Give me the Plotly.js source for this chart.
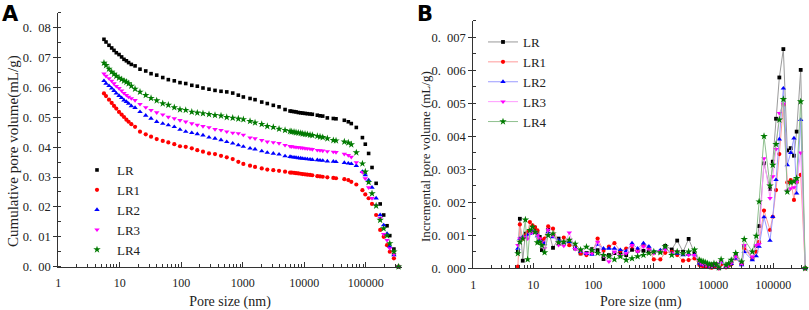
<!DOCTYPE html>
<html>
<head>
<meta charset="utf-8">
<script src="https://cdn.plot.ly/plotly-3.0.1.min.js"></script>
<style>html,body{margin:0;padding:0;background:#fff;}#chart{width:809px;height:310px;}</style>
</head>
<body>
<div id="chart"></div>
<script>
// Pore size (nm), shared by both panels
var poreSize = [5.53,5.97,6.67,7.38,8.05,8.77,9.71,10.7,11.7,12.8,13.9,15.4,17.7,21.3,26.4,32.2,39.8,49.9,61.5,76.9,95.2,118,148,182,225,282,353,442,548,685,845,1020,1310,1580,2030,2500,3130,3880,4860,5860,6240,6800,7330,7990,8740,9420,10260,11190,12380,13490,16270,17990,19910,23660,29620,32760,44700,51900,58000,70000,88000,98000,111000,126000,147000,171000,195000,221000,245000,286000,340000];

var seriesNames = ['LR','LR1','LR2','LR3','LR4'];

// Panel A: cumulative pore volume (mL/g)
var cumLR  = [0.0761,0.0752,0.0741,0.0732,0.0724,0.0716,0.0710,0.0702,0.0694,0.0689,0.0683,0.0677,0.0672,0.0661,0.0655,0.0646,0.0641,0.0633,0.0626,0.0622,0.0616,0.0613,0.0607,0.0604,0.0598,0.0594,0.0590,0.0587,0.0585,0.0581,0.0574,0.0568,0.0563,0.0559,0.0551,0.0546,0.0540,0.0535,0.0526,0.0521,0.0520,0.0519,0.0518,0.0516,0.0515,0.0514,0.0513,0.0512,0.0511,0.0510,0.0507,0.0505,0.0504,0.0498,0.0496,0.0495,0.0490,0.0485,0.0479,0.0466,0.0432,0.0410,0.0379,0.0332,0.0279,0.0210,0.0173,0.0137,0.0104,0.0059,0.0000];
var cumLR1 = [0.0580,0.0571,0.0559,0.0548,0.0538,0.0529,0.0518,0.0509,0.0501,0.0492,0.0485,0.0477,0.0468,0.0452,0.0443,0.0435,0.0427,0.0421,0.0416,0.0410,0.0403,0.0401,0.0396,0.0390,0.0385,0.0379,0.0377,0.0371,0.0366,0.0360,0.0351,0.0344,0.0338,0.0334,0.0329,0.0325,0.0323,0.0321,0.0318,0.0315,0.0315,0.0314,0.0313,0.0312,0.0311,0.0310,0.0309,0.0308,0.0307,0.0306,0.0303,0.0302,0.0301,0.0299,0.0297,0.0296,0.0293,0.0290,0.0284,0.0275,0.0256,0.0242,0.0229,0.0210,0.0173,0.0123,0.0100,0.0072,0.0050,0.0028,0.0000];
var cumLR2 = [0.0622,0.0613,0.0605,0.0597,0.0589,0.0580,0.0572,0.0565,0.0557,0.0552,0.0546,0.0538,0.0532,0.0518,0.0506,0.0496,0.0485,0.0479,0.0474,0.0468,0.0459,0.0452,0.0448,0.0444,0.0440,0.0433,0.0429,0.0424,0.0418,0.0413,0.0407,0.0402,0.0396,0.0393,0.0387,0.0382,0.0379,0.0376,0.0370,0.0368,0.0367,0.0366,0.0365,0.0364,0.0363,0.0362,0.0361,0.0360,0.0359,0.0358,0.0357,0.0356,0.0355,0.0353,0.0352,0.0351,0.0348,0.0346,0.0344,0.0338,0.0318,0.0307,0.0290,0.0265,0.0229,0.0173,0.0139,0.0111,0.0067,0.0039,0.0000];
var cumLR3 = [0.0646,0.0638,0.0630,0.0622,0.0613,0.0604,0.0597,0.0589,0.0581,0.0574,0.0568,0.0563,0.0557,0.0544,0.0533,0.0524,0.0516,0.0509,0.0501,0.0496,0.0490,0.0485,0.0479,0.0474,0.0470,0.0466,0.0460,0.0457,0.0452,0.0448,0.0446,0.0441,0.0432,0.0429,0.0423,0.0418,0.0416,0.0413,0.0407,0.0403,0.0402,0.0401,0.0400,0.0399,0.0398,0.0397,0.0396,0.0395,0.0394,0.0393,0.0390,0.0389,0.0388,0.0386,0.0384,0.0383,0.0377,0.0373,0.0367,0.0349,0.0316,0.0295,0.0265,0.0229,0.0206,0.0162,0.0109,0.0089,0.0061,0.0042,0.0000];
var cumLR4 = [0.0682,0.0674,0.0662,0.0652,0.0645,0.0638,0.0632,0.0627,0.0622,0.0618,0.0613,0.0605,0.0595,0.0585,0.0574,0.0564,0.0556,0.0546,0.0541,0.0533,0.0526,0.0524,0.0518,0.0515,0.0513,0.0510,0.0507,0.0505,0.0500,0.0498,0.0495,0.0493,0.0487,0.0482,0.0477,0.0470,0.0467,0.0461,0.0457,0.0453,0.0452,0.0451,0.0449,0.0448,0.0447,0.0445,0.0444,0.0443,0.0441,0.0440,0.0437,0.0435,0.0433,0.0429,0.0423,0.0422,0.0418,0.0415,0.0409,0.0382,0.0345,0.0318,0.0283,0.0245,0.0204,0.0156,0.0128,0.0104,0.0078,0.0050,0.0000];

// Panel B: incremental pore volume (mL/g)
var incLR  = [0.0005,0.0015,0.00023,0.00105,0.00106,0.0011,0.0011,0.00122,0.00108,0.00095,0.00055,0.00075,0.00117,0.00062,0.0009,0.00078,0.00081,0.0006,0.00045,0.00046,0.00058,0.00055,0.00028,0.0004,0.00046,0.00048,0.0004,0.00056,0.00053,0.00053,0.00052,0.00049,0.0005,0.00068,0.00057,0.00084,0.0005,0.00089,0.00046,0.0002,0.00018,0.00015,0.00012,0.0001,0.00008,0.0001,0.00006,0.00012,0.00002,0.00015,0.00006,0.00012,0.00015,0.00042,0.00015,0.00068,0.0003,0.00068,0.00128,0.00318,0.0024,0.00323,0.00453,0.00578,0.00664,0.00357,0.00364,0.00341,0.00414,0.00601,0];
var incLR1 = [0.00005,0.00133,0.0009,0.001,0.0011,0.0014,0.0013,0.00125,0.00115,0.0009,0.00085,0.0009,0.00127,0.0012,0.00078,0.00093,0.0007,0.00065,0.00045,0.0004,0.00047,0.0009,0.00053,0.00066,0.00076,0.00053,0.0006,0.00066,0.00053,0.0007,0.0006,0.00027,0.00027,0.00047,0.0005,0.0004,0.00023,0.00025,0.0003,0.0001,0.00008,0.00006,0.00005,0.00004,0.00003,0.00002,0.00005,0.00008,0,0.00012,0.00003,0.00008,0.00012,0.0003,0.00012,0.0006,0.0003,0.0005,0.0008,0.00175,0.00116,0.00156,0.00237,0.00346,0.00495,0.0026,0.00267,0.00207,0.0026,0.00283,0];
var incLR2 = [0.0006,0.0009,0.00095,0.00095,0.001,0.00105,0.0011,0.00108,0.00098,0.00085,0.0008,0.00075,0.0011,0.00095,0.00085,0.00078,0.0008,0.00062,0.0005,0.00044,0.00042,0.00072,0.0006,0.0006,0.0006,0.00056,0.00052,0.00076,0.0006,0.00076,0.00066,0.0005,0.00055,0.0006,0.00045,0.00045,0.0004,0.00042,0.0004,0.00015,0.00012,0.0001,0.00012,0.0001,0.00005,0.00007,0.00008,0.0001,0.00001,0.00018,0.00005,0.00012,0.00014,0.0003,0.0001,0.0005,0.00025,0.00037,0.00066,0.00155,0.00084,0.00156,0.00268,0.00391,0.00545,0.00313,0.0035,0.00394,0.00227,0.0045,0];
var incLR3 = [0.0007,0.0009,0.00092,0.00095,0.0009,0.00105,0.0011,0.0011,0.001,0.0009,0.0008,0.0006,0.00116,0.001,0.0007,0.00068,0.00108,0.00058,0.00052,0.00045,0.00045,0.0008,0.00038,0.0002,0.0005,0.0004,0.00045,0.0007,0.0005,0.00066,0.00056,0.00045,0.00052,0.00056,0.00046,0.00052,0.00045,0.0004,0.0004,0.0002,0.00015,0.00012,0.0001,0.00008,0.00006,0.00005,0.0001,0.00014,0,0.0002,0.00004,0.0001,0.00016,0.00036,0.00012,0.0007,0.00035,0.0007,0.00073,0.00333,0.00212,0.00278,0.00361,0.0047,0.00498,0.00235,0.00242,0.00245,0.00263,0.0035,0];
var incLR4 = [0.00045,0.0008,0.0009,0.00147,0.00027,0.00115,0.00125,0.0011,0.00078,0.0008,0.0007,0.00048,0.001,0.00105,0.00078,0.0008,0.00086,0.00074,0.00056,0.00065,0.00055,0.00046,0.0004,0.00036,0.00027,0.00036,0.00025,0.0003,0.00036,0.0004,0.00046,0.0005,0.00048,0.00066,0.0004,0.0005,0.00045,0.0005,0.00056,0.00025,0.00022,0.0002,0.00018,0.00015,0.00012,0.0001,0.00015,0.00012,0.00002,0.00027,0.0001,0.00014,0.00025,0.00046,0.0002,0.00088,0.0005,0.00098,0.00202,0.0040,0.0025,0.00313,0.00376,0.0045,0.00512,0.00232,0.0026,0.00263,0.00273,0.00505,0];

var xTickVals = [1,10,100,1000,10000,100000];
var xTickText = ['1','10','100','1000','10000','100000'];
var yTickValsA = [0,0.01,0.02,0.03,0.04,0.05,0.06,0.07,0.08];
var yTickTextA = ['0.\u00a0\u00a000','0.\u00a0\u00a001','0.\u00a0\u00a002','0.\u00a0\u00a003','0.\u00a0\u00a004','0.\u00a0\u00a005','0.\u00a0\u00a006','0.\u00a0\u00a007','0.\u00a0\u00a008'];
var yTickValsB = [0,0.001,0.002,0.003,0.004,0.005,0.006,0.007];
var yTickTextB = ['0.\u00a0\u00a0000','0.\u00a0\u00a0001','0.\u00a0\u00a0002','0.\u00a0\u00a0003','0.\u00a0\u00a0004','0.\u00a0\u00a0005','0.\u00a0\u00a0006','0.\u00a0\u00a0007'];
var xTitle = 'Pore size (nm)';
var yTitleA = 'Cumulative pore volume(mL/g)';
var yTitleB = 'Incremental pore volume (mL/g)';

var cumData = [cumLR, cumLR1, cumLR2, cumLR3, cumLR4];
var incData = [incLR, incLR1, incLR2, incLR3, incLR4];
var markerColors = ['#000000','#ff0000','#0000ff','#ff00ff','#007a00'];
var lineColors = ['#9a9a9a','#ff9a9a','#9a9aff','#ff9aff','#8fc08f'];
var symbols = ['square','circle','triangle-up','triangle-down','star'];
var sizesA = [3.6,4.2,4.8,4.8,5.6];
var sizesB = [3.8,4.2,4.8,4.8,5.6];

var traces = [];
for (var i = 0; i < seriesNames.length; i++) {
  traces.push({
    x: poreSize, y: cumData[i], name: seriesNames[i], type: 'scatter', mode: 'markers',
    xaxis: 'x', yaxis: 'y', legend: 'legend',
    marker: {symbol: symbols[i], size: sizesA[i], color: markerColors[i], line: {width: 0}},
    cliponaxis: false
  });
}
for (var j = 0; j < seriesNames.length; j++) {
  traces.push({
    x: poreSize, y: incData[j], name: seriesNames[j], type: 'scatter', mode: 'lines+markers',
    xaxis: 'x2', yaxis: 'y2', legend: 'legend2',
    line: {color: lineColors[j], width: 1},
    marker: {symbol: symbols[j], size: sizesB[j], color: markerColors[j], line: {width: 0}},
    cliponaxis: false
  });
}

var axisColor = '#333333';
var serif = 'Liberation Serif, Times New Roman, serif';
function xAxis(domain, anchor) {
  return {
    domain: domain, anchor: anchor, type: 'log', range: [0, 5.583],
    tickmode: 'array', tickvals: xTickVals, ticktext: xTickText,
    ticks: 'inside', ticklen: 5, tickwidth: 1, tickcolor: axisColor,
    minor: {ticks: 'inside', ticklen: 3, tickwidth: 1, tickcolor: axisColor, dtick: 'D1', showgrid: false},
    showline: true, linecolor: axisColor, linewidth: 1, showgrid: false, zeroline: false,
    tickfont: {family: serif, size: 12, color: '#222'}, ticklabelstandoff: 5,
    title: {text: xTitle, font: {family: serif, size: 14, color: '#222'}, standoff: 11},
    automargin: false
  };
}
function yAxis(domain, anchor, range, vals, text, minorStep) {
  return {
    domain: domain, anchor: anchor, range: range,
    tickmode: 'array', tickvals: vals, ticktext: text,
    ticks: 'outside', ticklen: 4, tickwidth: 1, tickcolor: axisColor,
    minor: {ticks: 'inside', ticklen: 3, tickwidth: 1, tickcolor: axisColor, dtick: minorStep, showgrid: false},
    showline: true, linecolor: axisColor, linewidth: 1, showgrid: false, zeroline: false,
    tickfont: {family: serif, size: 12.5, color: '#222'},
    automargin: false
  };
}

var layout = {
  width: 809, height: 310,
  margin: {l: 0, r: 0, t: 0, b: 0},
  paper_bgcolor: '#ffffff', plot_bgcolor: '#ffffff',
  showlegend: true,
  font: {family: serif, color: '#222'},
  xaxis: xAxis([0.07206, 0.49654], 'y'),
  yaxis: yAxis([0.13968, 0.95903], 'x', [0, 0.085], yTickValsA, yTickTextA, 0.005),
  xaxis2: xAxis([0.58504, 0.99913], 'y2'),
  yaxis2: yAxis([0.13452, 0.93323], 'x2', [0, 0.0075], yTickValsB, yTickTextB, 0.0005),
  legend: {x: 77/809, y: 1 - 155/310, xanchor: 'left', yanchor: 'top', bgcolor: 'rgba(0,0,0,0)',
           font: {family: serif, size: 13, color: '#222'}, tracegroupgap: 0, borderwidth: 0},
  legend2: {x: 483/809, y: 1 - 27/310, xanchor: 'left', yanchor: 'top', bgcolor: 'rgba(0,0,0,0)',
           font: {family: serif, size: 13, color: '#222'}, tracegroupgap: 0, borderwidth: 0},
  annotations: [
    {text: '<b>A</b>', xref: 'paper', yref: 'paper', x: 0, y: 1, xanchor: 'left', yanchor: 'top',
     showarrow: false, font: {family: 'DejaVu Sans, Liberation Sans, sans-serif', size: 21, color: '#000'}},
    {text: '<b>B</b>', xref: 'paper', yref: 'paper', x: 415/809, y: 1, xanchor: 'left', yanchor: 'top',
     showarrow: false, font: {family: 'DejaVu Sans, Liberation Sans, sans-serif', size: 21, color: '#000'}},
    {text: yTitleA, xref: 'paper', yref: 'paper', x: 13/809, y: 1 - 151/310, xanchor: 'center', yanchor: 'middle',
     textangle: -90, showarrow: false, font: {family: serif, size: 15, color: '#222'}},
    {text: yTitleB, xref: 'paper', yref: 'paper', x: 425/809, y: 1 - 157/310, xanchor: 'center', yanchor: 'middle',
     textangle: -90, showarrow: false, font: {family: serif, size: 13, color: '#222'}}
  ]
};

Plotly.newPlot('chart', traces, layout, {displayModeBar: false, staticPlot: true});
</script>
</body>
</html>
